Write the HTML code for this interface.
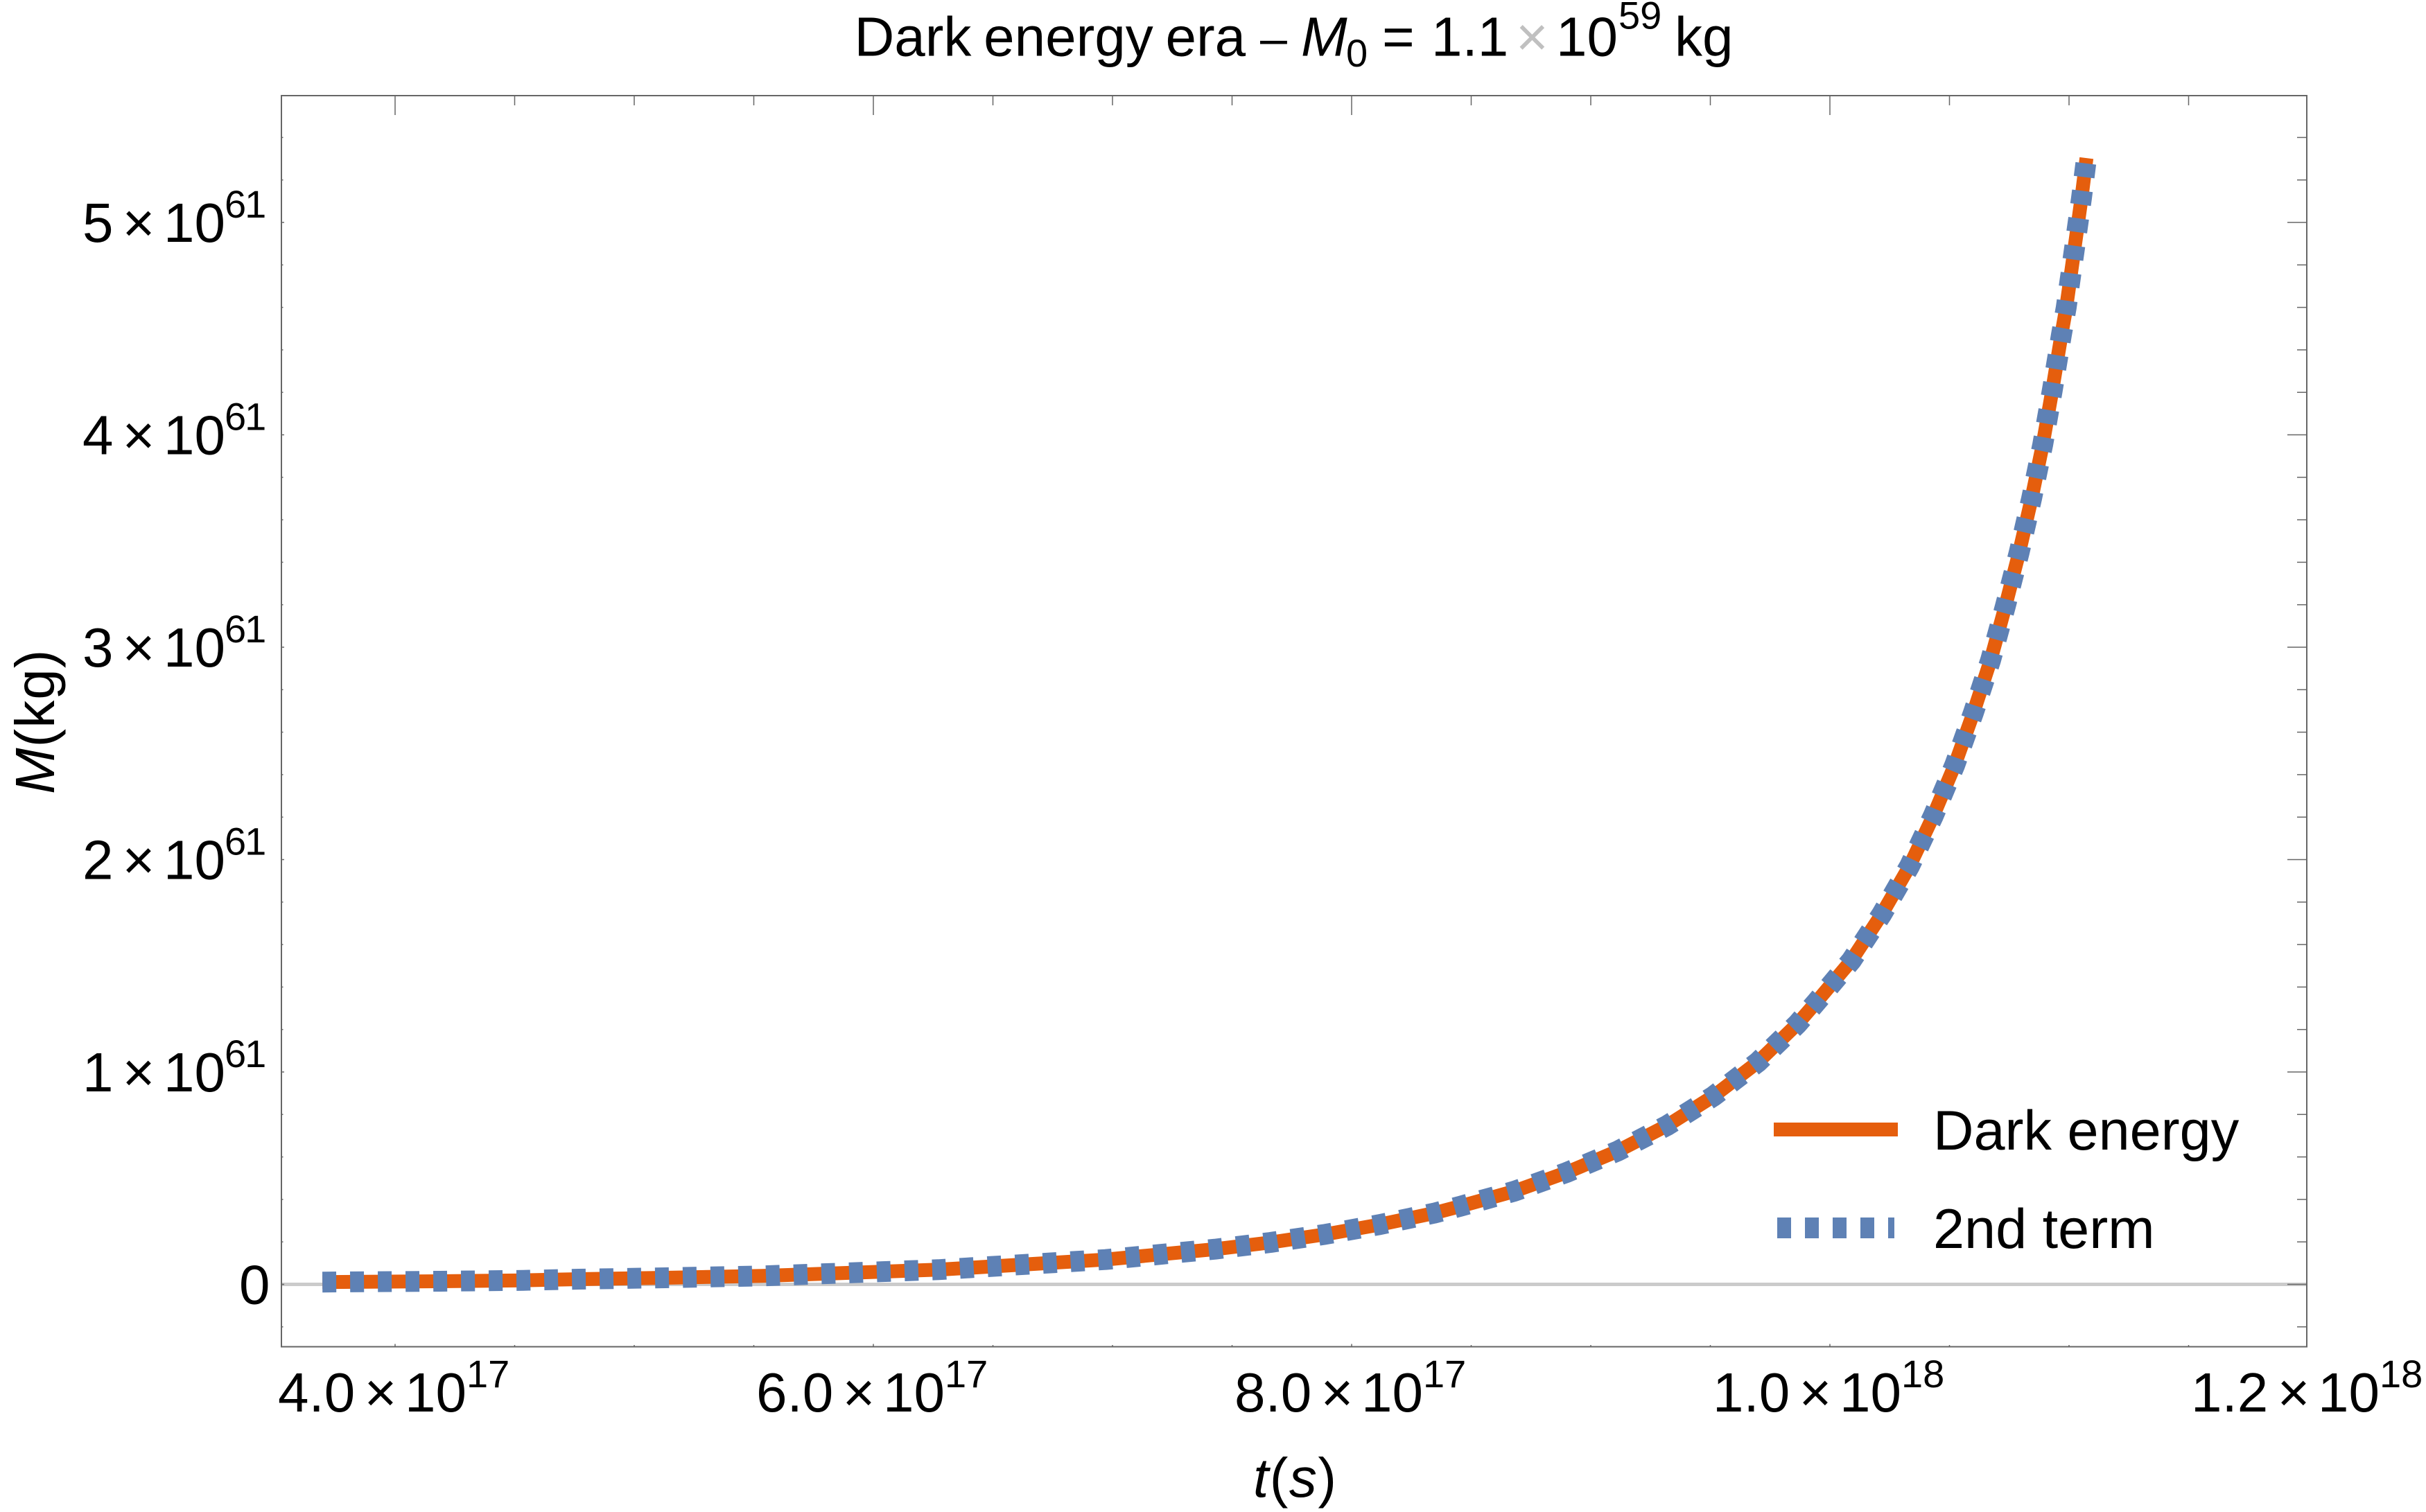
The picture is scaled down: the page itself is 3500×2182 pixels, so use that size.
<!DOCTYPE html>
<html lang="en">
<head>
<meta charset="utf-8">
<title>Dark energy era</title>
<style>
  html, body { margin: 0; padding: 0; background: #fff; }
  svg { display: block; }
  text { font-family: "Liberation Sans", sans-serif; fill: #000; }
</style>
</head>
<body>
<svg id="chart" xmlns="http://www.w3.org/2000/svg" width="3500" height="2182" viewBox="0 0 3500 2182">
  <rect x="0" y="0" width="3500" height="2182" fill="#fff"/>

  <g font-size="80">
    <text x="1232.5" y="80.5" word-spacing="-4.5">Dark energy era</text>
    <text x="1818" y="79" font-size="70">–</text>
    <text x="1877" y="80.5" font-style="italic">M</text>
    <text x="1942" y="96" font-size="56">0</text>
    <text x="1994" y="80.5">=</text>
    <text x="2065" y="80.5">1.1</text>
    <text x="2187" y="80.5" style="fill:#c0c0c0">×</text>
    <text x="2245" y="80.5">10</text>
    <text x="2335" y="41.5" font-size="56">59</text>
    <text x="2416" y="80.5">kg</text>
  </g>

  <g id="zero-layer"></g>
  <g id="series-layer"></g>
  <g id="tick-layer"></g>
  <rect x="406" y="138" width="2922" height="1805.5" fill="none" stroke="#666666" stroke-width="2"/>
  <g id="label-layer"></g>

  <text x="1808" y="2160" font-size="80" letter-spacing="1.5"><tspan font-style="italic">t</tspan>(<tspan font-style="italic">s</tspan>)</text>
  <text transform="translate(78 1146) rotate(-90)" font-size="80" letter-spacing="1"><tspan font-style="italic">M</tspan>(kg)</text>

  <g>
    <g>
      <line x1="2559" y1="1630" x2="2738" y2="1630" stroke="#E55E0D" stroke-width="20"/>
      <text x="2789" y="1659" font-size="81">Dark energy</text>
    </g>
    <g>
      <line x1="2564" y1="1772" x2="2733" y2="1772" stroke="#5E81B5" stroke-width="30" stroke-dasharray="20 20"/>
      <text x="2789" y="1801" font-size="81">2nd term</text>
    </g>
  </g>
</svg>

<script>
// Time in units of 1e17 s
const times = [3.696, 4.188, 4.536, 4.768, 5.130, 5.536, 6.272, 6.971, 7.429, 7.661, 7.890, 8.116, 8.345, 8.455, 8.681, 8.899, 9.113, 9.319, 9.513, 9.699, 9.864, 9.942, 10.090, 10.217, 10.333, 10.432, 10.522, 10.600, 10.672, 10.733, 10.791, 10.843, 10.890, 10.930, 10.968, 10.988, 11.020, 11.052, 11.073];
// Mass in units of 1e61 kg
const darkEnergyMass = [0.0108, 0.0147, 0.0189, 0.0245, 0.031, 0.0398, 0.0692, 0.1168, 0.1657, 0.1974, 0.2356, 0.2812, 0.3354, 0.368, 0.4388, 0.5269, 0.628, 0.7478, 0.8858, 1.0467, 1.2261, 1.3272, 1.5253, 1.743, 1.969, 2.205, 2.445, 2.691, 2.939, 3.190, 3.444, 3.698, 3.954, 4.21, 4.47, 4.598, 4.855, 5.114, 5.303];
const secondTermMass = [0.0108, 0.0147, 0.0189, 0.0245, 0.031, 0.0398, 0.0692, 0.1168, 0.1657, 0.1974, 0.2356, 0.2812, 0.3354, 0.368, 0.4388, 0.5269, 0.628, 0.7478, 0.8858, 1.0467, 1.2261, 1.3272, 1.5253, 1.743, 1.969, 2.205, 2.445, 2.691, 2.939, 3.190, 3.444, 3.698, 3.954, 4.21, 4.47, 4.598, 4.855, 5.114, 5.303];

const xTickValues = [4, 6, 8, 10, 12];
const xTickMantissas = ["4.0", "6.0", "8.0", "1.0", "1.2"];
const xTickExponents = ["17", "17", "17", "18", "18"];
const yTickValues = [1, 2, 3, 4, 5];
const yTickMantissas = ["1", "2", "3", "4", "5"];
const yTickExponents = ["61", "61", "61", "61", "61"];

function xScale(t) { return 570 + (t - 4) * 345; }
function yScale(m) { return 1853.5 - m * 306.5; }

const SVG_NS = "http://www.w3.org/2000/svg";

function addEl(parent, tag, name, attrs, content) {
  const el = document.createElementNS(SVG_NS, tag);
  
  
  for (const key in attrs) el.setAttribute(key, attrs[key]);
  if (content !== undefined) el.textContent = content;
  parent.appendChild(el);
  return el;
}

const zeroLayer = document.getElementById("zero-layer");
const seriesLayer = document.getElementById("series-layer");
const tickLayer = document.getElementById("tick-layer");
const labelLayer = document.getElementById("label-layer");

// Zero axis line
addEl(zeroLayer, "line", "zero-axis-line", { x1: 406, x2: 3328, y1: yScale(0), y2: yScale(0), stroke: "#CBCBCB", "stroke-width": 5 });

// Series
function seriesPath(xs, ys) {
  return xs.map((t, i) => (i ? "L" : "M") + xScale(t).toFixed(2) + " " + yScale(ys[i]).toFixed(2)).join(" ");
}
addEl(seriesLayer, "path", "series-dark-energy", {
  d: seriesPath(times, darkEnergyMass), fill: "none", stroke: "#E55E0D", "stroke-width": 20, "stroke-linejoin": "round"
});
addEl(seriesLayer, "path", "series-2nd-term", {
  d: seriesPath(times, secondTermMass), fill: "none", stroke: "#5E81B5", "stroke-width": 30, "stroke-dasharray": "20 20", "stroke-linejoin": "round"
});

// Ticks
function tickLine(name, x1, y1, x2, y2) {
  addEl(tickLayer, "line", name, { x1, y1, x2, y2, stroke: "#666666", "stroke-width": 1.5 });
}
for (let k = 8; k <= 23; k++) {
  const t = k / 2;
  const major = xTickValues.indexOf(t) >= 0;
  const x = xScale(t);
  tickLine("x-tick-top", x, 138, x, 138 + (major ? 28 : 14));
  tickLine("x-tick-bottom", x, 1943.5, x, 1943.5 - (major ? 4 : 2.5));
}
for (let k = -1; k <= 27; k++) {
  const m = k / 5;
  const major = k === 0 || yTickValues.indexOf(m) >= 0;
  const y = yScale(m);
  tickLine("y-tick-right", 3328, y, 3328 - (major ? 28 : 14), y);
  tickLine("y-tick-left", 406, y, 406 + (major ? 4 : 2.5), y);
}

// Tick labels
xTickValues.forEach((v, i) => {
  const left = xScale(v) - 169;
  const base = 2037;
  const g = addEl(labelLayer, "g", "x-tick-label", { "font-size": 80 });
  addEl(g, "text", "x-tick-mantissa", { x: left, y: base }, xTickMantissas[i]);
  addEl(g, "text", "x-tick-times", { x: left + 124.6, y: base }, "×");
  addEl(g, "text", "x-tick-ten", { x: left + 183, y: base }, "10");
  addEl(g, "text", "x-tick-exponent", { x: left + 272, y: base - 35, "font-size": 56 }, xTickExponents[i]);
});
yTickValues.forEach((v, i) => {
  const base = yScale(v) + 28;
  const g = addEl(labelLayer, "g", "y-tick-label", { "font-size": 80 });
  addEl(g, "text", "y-tick-mantissa", { x: 119, y: base }, yTickMantissas[i]);
  addEl(g, "text", "y-tick-times", { x: 176.6, y: base }, "×");
  addEl(g, "text", "y-tick-ten", { x: 236, y: base }, "10");
  addEl(g, "text", "y-tick-exponent", { x: 324, y: base - 35, "font-size": 56, "letter-spacing": -2 }, yTickExponents[i]);
});
addEl(labelLayer, "text", "y-tick-label-zero", { x: 345, y: yScale(0) + 28, "font-size": 80 }, "0");
</script>
</body>
</html>
